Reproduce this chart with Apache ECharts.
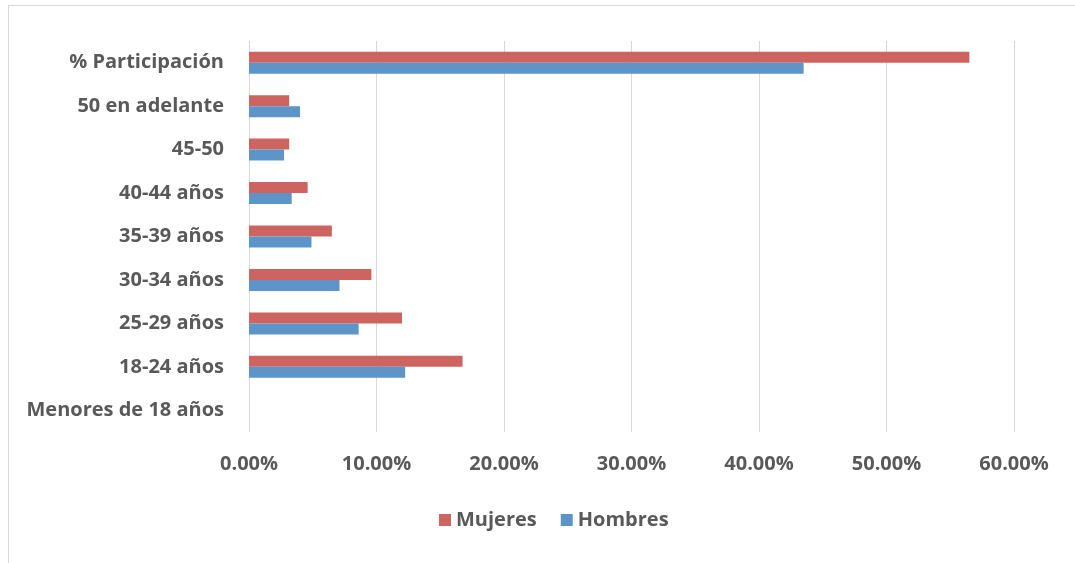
<!DOCTYPE html>
<html>
<head>
<meta charset="utf-8">
<script src="https://cdn.jsdelivr.net/npm/echarts@6/dist/echarts.min.js"></script>
<style>
    html, body { margin: 0; padding: 0; background: #fff; }
    #chart { width: 1075px; height: 563px; }
</style>
</head>
<body>
<div id="chart"></div>
<script>
// categories, top to bottom
var categorias = ['% Participación', '50 en adelante', '45-50', '40-44 años', '35-39 años', '30-34 años', '25-29 años', '18-24 años', 'Menores de 18 años'];
var mujeres = [56.5, 3.15, 3.15, 4.6, 6.5, 9.6, 12.0, 16.75, 0];
var hombres = [43.5, 4.0, 2.75, 3.35, 4.9, 7.1, 8.6, 12.25, 0];
var xTicks = [0, 10, 20, 30, 40, 50, 60];

var textColor = '#595959';
var fontFam = '"Open Sans", sans-serif';

var chart = echarts.init(document.getElementById('chart'));
var option = {
    animation: false,
    graphic: [
        {type: 'line', shape: {x1: 8, y1: 5.5, x2: 1075, y2: 5.5}, style: {stroke: '#d9d9d9', lineWidth: 1}},
        {type: 'line', shape: {x1: 8.5, y1: 5, x2: 8.5, y2: 563}, style: {stroke: '#d9d9d9', lineWidth: 1}}
    ],
    grid: {left: 249, right: 61, top: 41, bottom: 131},
    legend: {
        data: ['Mujeres', 'Hombres'],
        left: 434,
        top: 505,
        icon: 'rect',
        itemWidth: 12,
        itemHeight: 12,
        itemGap: 24,
        textStyle: {color: textColor, fontSize: 20, fontWeight: 'bold', fontFamily: fontFam}
    },
    xAxis: {
        type: 'value',
        min: 0,
        max: xTicks[xTicks.length - 1],
        interval: 10,
        axisLine: {show: false},
        axisTick: {show: false},
        splitLine: {lineStyle: {color: '#d9d9d9', width: 1}},
        axisLabel: {
            color: textColor, fontSize: 20, fontWeight: 'bold', fontFamily: fontFam, margin: 22,
            formatter: function (v) { return v.toFixed(2) + '%'; }
        }
    },
    yAxis: {
        type: 'category',
        inverse: true,
        data: categorias,
        axisLine: {show: false},
        axisTick: {show: false},
        axisLabel: {
            color: textColor, fontSize: 20, fontWeight: 'bold', fontFamily: fontFam, margin: 25,
            padding: [6, 0, 0, 0]
        }
    },
    series: [
        {
            name: 'Mujeres', type: 'bar', data: mujeres,
            barWidth: 11, barGap: '0%',
            itemStyle: {color: '#cd645f'}
        },
        {
            name: 'Hombres', type: 'bar', data: hombres,
            barWidth: 11, barGap: '0%',
            itemStyle: {color: '#5e95c9'}
        }
    ]
};
chart.setOption(option);
window.addEventListener('resize', function () {
    chart.resize();
});
</script>
</body>
</html>
